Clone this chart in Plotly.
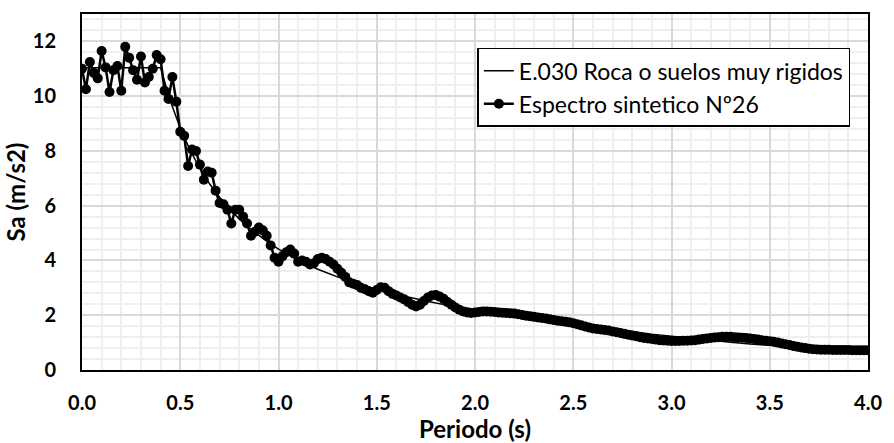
import plotly.graph_objects as go

# E.030 design spectrum (rock / very stiff soil)
periodo_e030 = [0.00, 0.40, 0.45, 0.50, 0.55, 0.60, 0.65, 0.70, 0.75, 0.80, 0.85,
                0.90, 0.95, 1.00, 1.10, 1.20, 1.30, 1.40, 1.50, 1.60, 1.70, 1.80,
                1.90, 2.00, 2.10, 2.20, 2.30, 2.40, 2.50, 2.60, 2.70, 2.80, 2.90,
                3.00, 3.10, 3.20, 3.30, 3.40, 3.50, 3.60, 3.70, 3.80, 3.90, 4.00]
sa_e030 = [11.04, 11.04, 9.81, 8.83, 8.03, 7.36, 6.79, 6.31, 5.89, 5.52, 5.19,
           4.91, 4.65, 4.41, 4.01, 3.68, 3.40, 3.15, 2.94, 2.76, 2.60, 2.45,
           2.32, 2.21, 2.10, 2.01, 1.92, 1.84, 1.77, 1.63, 1.51, 1.41, 1.31,
           1.23, 1.15, 1.08, 1.01, 0.95, 0.90, 0.85, 0.81, 0.76, 0.73, 0.69]

# Synthetic spectrum No. 26, sampled every 0.02 s
periodo_sint = [round(0.02 * i, 2) for i in range(201)]
sa_sint = [
    11.00, 10.25, 11.25, 10.85, 10.65, 11.65, 11.05, 10.15, 10.95, 11.10,
    10.20, 11.80, 11.40, 10.95, 10.60, 11.45, 10.50, 10.70, 11.00, 11.50,
    11.35, 10.20, 9.90, 10.70, 9.80, 8.70, 8.55, 7.45, 8.05, 8.00,
    7.50, 6.95, 7.25, 7.20, 6.55, 6.10, 6.05, 5.85, 5.35, 5.85,
    5.85, 5.60, 5.35, 4.90, 5.05, 5.20, 5.10, 4.90, 4.55, 4.10,
    3.95, 4.15, 4.30, 4.40, 4.25, 3.95, 4.00, 3.95, 3.85, 3.90,
    4.05, 4.10, 4.05, 3.95, 3.85, 3.70, 3.55, 3.40, 3.20, 3.15,
    3.10, 3.00, 2.95, 2.88, 2.82, 2.92, 3.02, 3.00, 2.88, 2.78,
    2.72, 2.65, 2.58, 2.48, 2.38, 2.32, 2.38, 2.52, 2.65, 2.72,
    2.74, 2.68, 2.60, 2.48, 2.38, 2.28, 2.20, 2.14, 2.10, 2.08,
    2.10, 2.12, 2.14, 2.14, 2.13, 2.12, 2.10, 2.09, 2.08, 2.07,
    2.06, 2.04, 2.01, 1.98, 1.96, 1.94, 1.92, 1.90, 1.88, 1.85,
    1.83, 1.80, 1.78, 1.76, 1.74, 1.71, 1.67, 1.63, 1.59, 1.55,
    1.52, 1.50, 1.48, 1.46, 1.44, 1.41, 1.38, 1.35, 1.32, 1.29,
    1.26, 1.23, 1.20, 1.17, 1.15, 1.13, 1.11, 1.09, 1.08, 1.07,
    1.06, 1.06, 1.06, 1.07, 1.07, 1.08, 1.09, 1.11, 1.13, 1.15,
    1.17, 1.19, 1.20, 1.21, 1.21, 1.21, 1.20, 1.19, 1.18, 1.17,
    1.15, 1.13, 1.11, 1.09, 1.07, 1.05, 1.03, 1.00, 0.97, 0.94,
    0.91, 0.88, 0.85, 0.82, 0.80, 0.78, 0.76, 0.75, 0.74, 0.74,
    0.74, 0.73, 0.73, 0.73, 0.73, 0.73, 0.72, 0.72, 0.72, 0.72,
    0.72,
]

x_ticks = [0.0, 0.5, 1.0, 1.5, 2.0, 2.5, 3.0, 3.5, 4.0]
x_ticklabels = ["0.0", "0.5", "1.0", "1.5", "2.0", "2.5", "3.0", "3.5", "4.0"]
y_ticks = [0, 2, 4, 6, 8, 10, 12]

FONT = "Lato"

fig = go.Figure()
fig.add_trace(go.Scatter(
    x=periodo_e030, y=sa_e030, mode="lines",
    name="E.030 Roca o suelos muy rigidos",
    line=dict(color="black", width=1.5),
))
fig.add_trace(go.Scatter(
    x=periodo_sint, y=sa_sint, mode="lines+markers",
    name="Espectro sintetico Nº26",
    line=dict(color="black", width=2.5),
    marker=dict(color="black", size=10, symbol="circle"),
))

fig.update_layout(
    width=894, height=443,
    margin=dict(l=82, r=16, t=12, b=72),
    paper_bgcolor="white", plot_bgcolor="white",
    font=dict(family=FONT, color="black"),
    legend=dict(
        x=0.503, y=0.905, xanchor="left", yanchor="top",
        bgcolor="white", bordercolor="black", borderwidth=1.5,
        font=dict(family=FONT, size=23, color="black"),
    ),
)
fig.update_xaxes(
    range=[0, 4], tickvals=x_ticks, ticktext=x_ticklabels,
    showgrid=True, gridcolor="#d9d9d9", gridwidth=1.5,
    minor=dict(dtick=0.1, showgrid=True, gridcolor="#efefef", gridwidth=1.5),
    showline=True, linecolor="black", linewidth=2, mirror=True,
    ticks="", ticklabelstandoff=14, zeroline=False,
    tickfont=dict(family=FONT, size=20, color="black", weight="bold"),
    title=dict(text="Periodo (s)", standoff=0,
               font=dict(family=FONT, size=24, color="black", weight="bold")),
)
fig.update_yaxes(
    range=[0, 13], tickvals=y_ticks,
    showgrid=True, gridcolor="#d9d9d9", gridwidth=1.5,
    minor=dict(dtick=0.4, tick0=0, showgrid=True, gridcolor="#efefef", gridwidth=1.5),
    showline=True, linecolor="black", linewidth=2, mirror=True,
    ticks="", ticklabelstandoff=20, zeroline=False,
    tickfont=dict(family=FONT, size=20, color="black", weight="bold"),
    title=dict(text="Sa (m/s2)", standoff=0,
               font=dict(family=FONT, size=24, color="black", weight="bold")),
)

fig.write_html("out.html")
